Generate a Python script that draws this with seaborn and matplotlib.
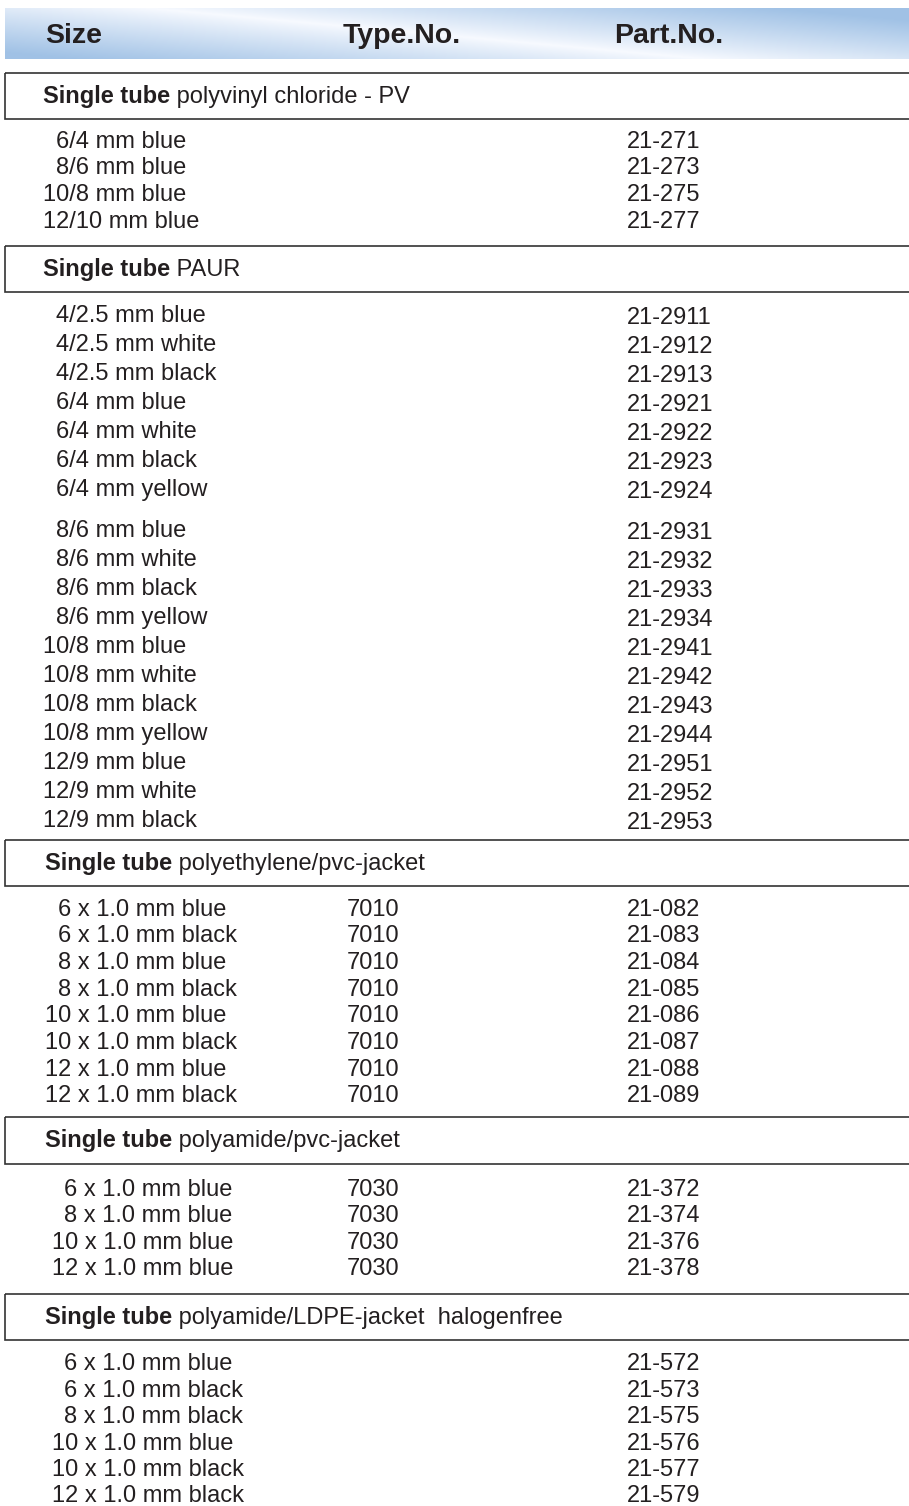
import matplotlib
matplotlib.use('Agg')
import matplotlib.pyplot as plt
from matplotlib.patches import Rectangle
import seaborn as sns
import numpy as np

# ---- table content ----
header_labels = ['Size', 'Type.No.', 'Part.No.']

section_titles = ['polyvinyl chloride - PV',
                  'PAUR',
                  'polyethylene/pvc-jacket',
                  'polyamide/pvc-jacket',
                  'polyamide/LDPE-jacket  halogenfree']

pv_sizes = ['6/4 mm blue', '8/6 mm blue', '10/8 mm blue', '12/10 mm blue']
pv_types = ['', '', '', '']
pv_parts = ['21-271', '21-273', '21-275', '21-277']

paur_sizes = ['4/2.5 mm blue', '4/2.5 mm white', '4/2.5 mm black',
              '6/4 mm blue', '6/4 mm white', '6/4 mm black', '6/4 mm yellow',
              '8/6 mm blue', '8/6 mm white', '8/6 mm black', '8/6 mm yellow',
              '10/8 mm blue', '10/8 mm white', '10/8 mm black', '10/8 mm yellow',
              '12/9 mm blue', '12/9 mm white', '12/9 mm black']
paur_types = [''] * 18
paur_parts = ['21-2911', '21-2912', '21-2913',
              '21-2921', '21-2922', '21-2923', '21-2924',
              '21-2931', '21-2932', '21-2933', '21-2934',
              '21-2941', '21-2942', '21-2943', '21-2944',
              '21-2951', '21-2952', '21-2953']

pe_sizes = ['6 x 1.0 mm blue', '6 x 1.0 mm black', '8 x 1.0 mm blue', '8 x 1.0 mm black',
            '10 x 1.0 mm blue', '10 x 1.0 mm black', '12 x 1.0 mm blue', '12 x 1.0 mm black']
pe_types = ['7010'] * 8
pe_parts = ['21-082', '21-083', '21-084', '21-085', '21-086', '21-087', '21-088', '21-089']

pa_sizes = ['6 x 1.0 mm blue', '8 x 1.0 mm blue', '10 x 1.0 mm blue', '12 x 1.0 mm blue']
pa_types = ['7030'] * 4
pa_parts = ['21-372', '21-374', '21-376', '21-378']

ldpe_sizes = ['6 x 1.0 mm blue', '6 x 1.0 mm black', '8 x 1.0 mm black',
              '10 x 1.0 mm blue', '10 x 1.0 mm black', '12 x 1.0 mm black']
ldpe_types = [''] * 6
ldpe_parts = ['21-572', '21-573', '21-575', '21-576', '21-577', '21-579']

sections = [(pv_sizes, pv_types, pv_parts),
            (paur_sizes, paur_types, paur_parts),
            (pe_sizes, pe_types, pe_parts),
            (pa_sizes, pa_types, pa_parts),
            (ldpe_sizes, ldpe_types, ldpe_parts)]

# ---- page layout (pixels, y grows downwards) ----
W, H = 909, 1506
col_x = {'type': 347, 'part': 627}
box_h = 46.5
layout = [
    dict(top=72.5, first=147.5, step=26.67, x=43, tx=43, gap_at=None, part_dy=0),
    dict(top=245.5, first=321.5, step=29.0, x=43, tx=43, gap_at=7, part_dy=2),
    dict(top=839.5, first=915.5, step=26.7, x=45, tx=45, gap_at=None, part_dy=0),
    dict(top=1117.0, first=1196.0, step=26.4, x=52, tx=45, gap_at=None, part_dy=0),
    dict(top=1293.5, first=1370.5, step=26.4, x=52, tx=45, gap_at=None, part_dy=0),
]
digit_w = 12.5
text_color = '#231f20'
row_fs = 17

sns.set_theme(style='white')
plt.rcParams['font.family'] = ['Liberation Sans', 'DejaVu Sans']

fig = plt.figure(figsize=(W / 100, H / 100), dpi=100)
ax = fig.add_axes([0, 0, 1, 1])

# header band with diagonal sheen
hx0, hx1, hy0, hy1 = 5, W, 8, 59
xs = np.linspace(hx0, hx1, 400)
ys = np.linspace(hy0, hy1, 60)
gx, gy = np.meshgrid(xs, ys)
line_y = 8 + (gx - 150) / 550 * 51
wgt = np.clip(np.abs(gy - line_y) / 58, 0, 1) ** 0.9
blue = np.array([0.63, 0.76, 0.90])
white = np.array([0.97, 0.98, 1.0])
img = white * (1 - wgt[..., None]) + blue * wgt[..., None]
ax.imshow(img, extent=(hx0, hx1, hy1, hy0), aspect='auto', interpolation='bilinear')
ax.set_xlim(0, W)
ax.set_ylim(H, 0)
ax.axis('off')

hdr_x = [45, 343, 614]
for lab, x in zip(header_labels, hdr_x):
    ax.text(x, 43, lab, fontsize=20.5, fontweight='bold', color=text_color, va='baseline')

for (sizes, types, parts), title, lay in zip(sections, section_titles, layout):
    ax.add_patch(Rectangle((5, lay['top']), W + 20, box_h, fill=False,
                           edgecolor='#333333', lw=1.2, clip_on=True))
    bold = ax.text(lay['tx'], lay['top'] + 30.5, 'Single tube', fontsize=17,
                   fontweight='bold', color=text_color, va='baseline')
    ax.annotate(' ' + title, xy=(1, 0), xycoords=bold, va='bottom', ha='left',
                fontsize=17, color=text_color)
    for i, (s, t, p) in enumerate(zip(sizes, types, parts)):
        y = lay['first'] + i * lay['step']
        if lay['gap_at'] is not None and i >= lay['gap_at']:
            y += 12
        # single-digit sizes are padded by one figure width
        lead = s.split('/')[0].split(' ')[0]
        indent = digit_w if len(lead.split('.')[0]) == 1 else 0
        ax.text(lay['x'] + indent, y, s, fontsize=row_fs, color=text_color, va='baseline')
        if t:
            ax.text(col_x['type'], y, t, fontsize=row_fs, color=text_color, va='baseline')
        ax.text(col_x['part'], y + lay['part_dy'], p, fontsize=row_fs, color=text_color,
                va='baseline')

fig.savefig('out.png', dpi=100, facecolor='white')
